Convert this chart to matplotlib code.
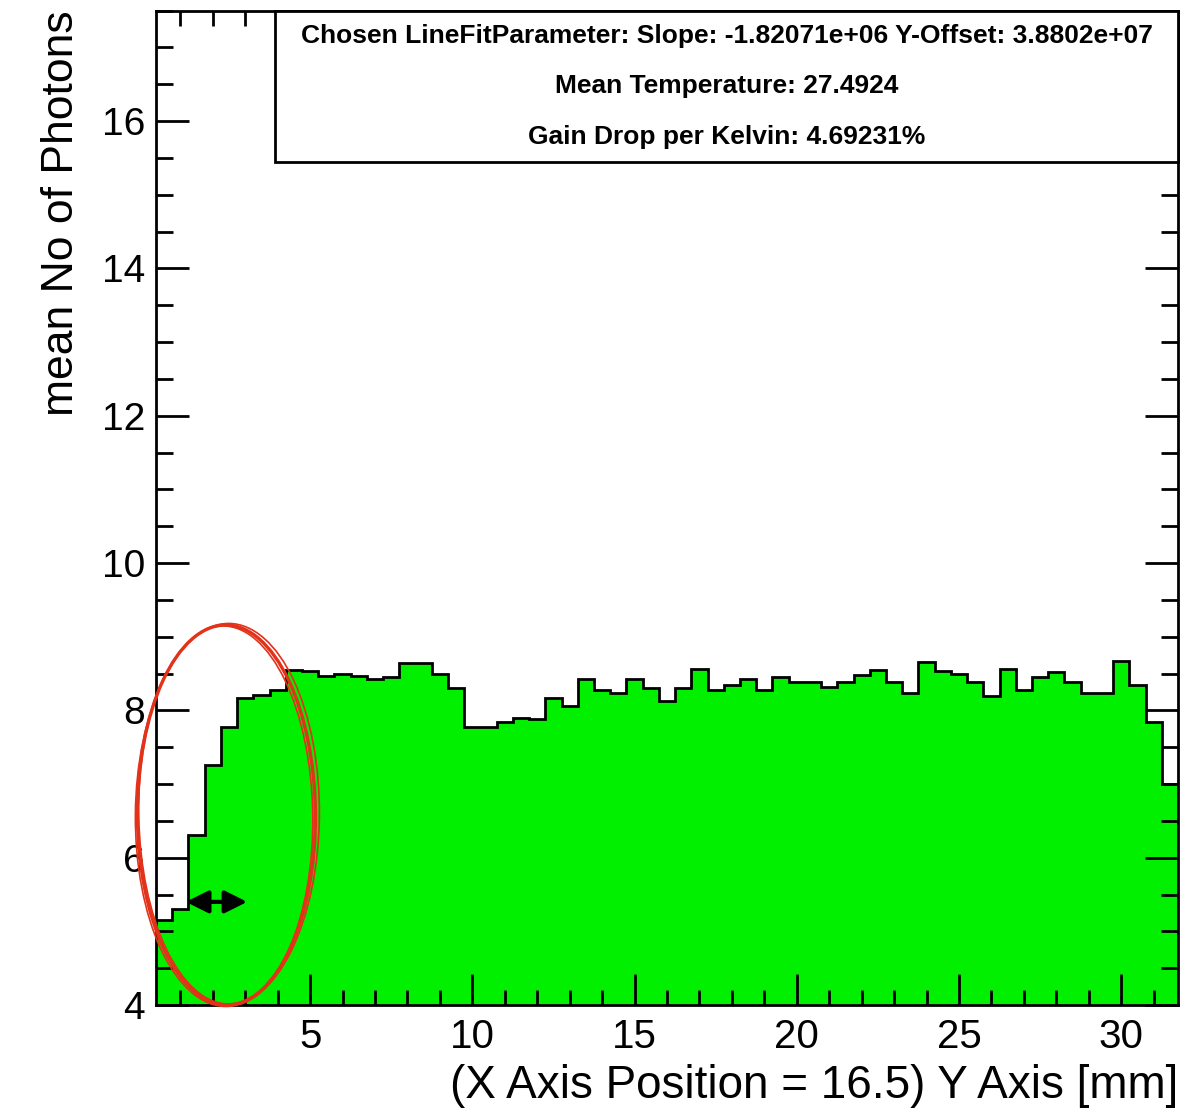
import numpy as np
import matplotlib
matplotlib.use("Agg")
import matplotlib.pyplot as plt
from matplotlib.patches import Ellipse, Rectangle
from matplotlib.transforms import ScaledTranslation
from matplotlib.ticker import MultipleLocator

plt.rcParams['font.family'] = ['Liberation Sans', 'DejaVu Sans']

# mean number of photons per 0.5 mm bin along the Y axis (X = 16.5)
photons = [5.15, 5.31, 6.31, 7.26, 7.77, 8.17, 8.21, 8.28, 8.55, 8.53,
           8.46, 8.49, 8.46, 8.42, 8.45, 8.64, 8.64, 8.50, 8.31, 7.77,
           7.77, 7.84, 7.90, 7.88, 8.17, 8.06, 8.42, 8.28, 8.24, 8.42,
           8.31, 8.13, 8.31, 8.56, 8.28, 8.35, 8.42, 8.28, 8.45, 8.39,
           8.38, 8.32, 8.39, 8.48, 8.55, 8.39, 8.24, 8.66, 8.53, 8.50,
           8.39, 8.20, 8.56, 8.28, 8.45, 8.52, 8.39, 8.24, 8.24, 8.67,
           8.34, 7.84, 7.00]
y_first_edge = 0.25
bin_width = 0.5
edges = y_first_edge + bin_width * np.arange(len(photons) + 1)

stats_lines = ["Chosen LineFitParameter: Slope: -1.82071e+06 Y-Offset: 3.8802e+07",
               "Mean Temperature: 27.4924",
               "Gain Drop per Kelvin: 4.69231%"]

fig = plt.figure(figsize=(12.01, 11.11), dpi=100)
ax = fig.add_axes([0.1299, 0.0954, 0.851, 0.8951])

# histogram: filled green with black outline
ax.stairs(photons, edges, baseline=4, fill=True, color='#00f000', zorder=1)
ax.stairs(photons, edges, baseline=None, color='black', lw=2, zorder=2)

ax.set_xlim(edges[0], edges[-1])
ax.set_ylim(4, 17.5)

ax.xaxis.set_major_locator(MultipleLocator(5))
ax.xaxis.set_minor_locator(MultipleLocator(1))
ax.yaxis.set_major_locator(MultipleLocator(2))
ax.yaxis.set_minor_locator(MultipleLocator(0.5))
ax.tick_params(which='both', direction='in', top=True, right=True, width=2, colors='black')
ax.tick_params(axis='x', which='major', length=22, labelsize=29, pad=9)
ax.tick_params(axis='x', which='minor', length=11)
ax.tick_params(axis='y', which='major', length=24, labelsize=28, pad=8)
ax.tick_params(axis='y', which='minor', length=12)
for s in ax.spines.values():
    s.set_linewidth(2)

ax.set_xlabel("(X Axis Position = 16.5) Y Axis [mm]", fontsize=33, loc='right', labelpad=6)
ax.set_ylabel("mean No of Photons", fontsize=32, loc='top', labelpad=14)

# stats box
box = Rectangle((0.1164, 0.8477), 1 - 0.1164, 1 - 0.8477, transform=ax.transAxes,
                facecolor='white', edgecolor='black', lw=2, zorder=5, clip_on=False)
ax.add_patch(box)
for i, line in enumerate(stats_lines):
    ax.text(0.1164 + (1 - 0.1164) / 2, 1 - (1 - 0.8477) * (2 * i + 1) / 6, line,
            transform=ax.transAxes, ha='center', va='center', fontsize=19,
            fontweight='bold', zorder=6)

# hand-drawn red ellipse annotation
for dw, dh, dx, ang, lw in [(0, 0, 0, 0.3, 2.4), (0.06, 0.03, 0.03, -0.5, 1.2), (-0.04, -0.02, -0.02, 1.0, 1.2)]:
    tr = fig.dpi_scale_trans + ScaledTranslation(2.42 + dx, 6.58, ax.transData)
    ax.add_patch(Ellipse((0, 0), 1.78 + dw, 3.8 + dh, angle=ang, transform=tr,
                         fill=False, edgecolor='#e2321a', lw=lw, zorder=7, clip_on=False))

# double-headed arrow
ax.annotate('', xy=(3.06, 5.40), xytext=(1.17, 5.40),
            arrowprops=dict(arrowstyle='<|-|>', color='black', lw=3, mutation_scale=34,
                            shrinkA=0, shrinkB=0), zorder=8)

fig.savefig("out.png", dpi=100)
